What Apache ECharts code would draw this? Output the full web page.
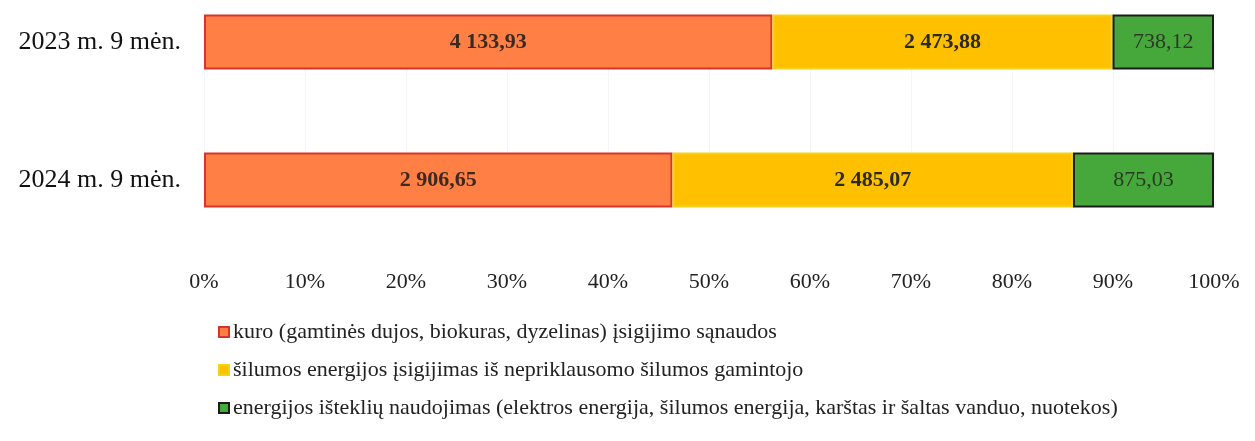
<!DOCTYPE html>
<html lang="lt">
<head>
    <meta charset="UTF-8">
    <title>sąnaudos</title>
    <script src="https://cdn.jsdelivr.net/npm/echarts@6/dist/echarts.min.js"></script>
    <style>
        html, body { margin: 0; padding: 0; background: #fff; }
        #chart { width: 1255px; height: 441px; }
    </style>
</head>
<body>
<div id="chart"></div>
<script type="text/javascript">
    // duomenys
    let categories = ['2023 m. 9 mėn.', '2024 m. 9 mėn.'];
    let seriesNames = [
        'kuro (gamtinės dujos, biokuras, dyzelinas) įsigijimo sąnaudos',
        'šilumos energijos įsigijimas iš nepriklausomo šilumos gamintojo',
        'energijos išteklių naudojimas (elektros energija, šilumos energija, karštas ir šaltas vanduo, nuotekos)'
    ];
    let kuras = [4133.93, 2906.65];
    let silumosPirkimas = [2473.88, 2485.07];
    let istekliai = [738.12, 875.03];
    let tickLabels = ['0%', '10%', '20%', '30%', '40%', '50%', '60%', '70%', '80%', '90%', '100%'];

    let raw = [kuras, silumosPirkimas, istekliai];
    let totals = categories.map(function (c, i) {
        return kuras[i] + silumosPirkimas[i] + istekliai[i];
    });

    function fmt(v) {
        let parts = v.toFixed(2).split('.');
        parts[0] = parts[0].replace(/\B(?=(\d{3})+(?!\d))/g, ' ');
        return parts[0] + ',' + parts[1];
    }

    let colors = ['#ff7f45', '#ffc000', '#46a83a'];
    let borders = ['#d8352a', '#f2d21a', '#1c1c1c'];
    let labelColors = ['#3a2a20', '#2e2a18', '#2a3a26'];

    let series = raw.map(function (arr, s) {
        return {
            name: seriesNames[s],
            type: 'bar',
            stack: 'total',
            barWidth: 55,
            clip: false,
            data: arr.map(function (v, i) {
                return { value: v / totals[i] * 100, raw: v };
            }),
            itemStyle: {
                color: colors[s],
                borderColor: borders[s],
                borderWidth: 2
            },
            label: {
                show: true,
                position: 'inside',
                fontFamily: 'Liberation Serif',
                fontWeight: s === 2 ? 'normal' : 'bold',
                fontSize: 22,
                color: labelColors[s],
                formatter: function (p) { return fmt(p.data.raw); }
            }
        };
    });

    let myChart = echarts.init(document.getElementById('chart'), null, { renderer: 'canvas' });
    let option = {
        animation: false,
        color: colors,
        grid: { left: 204, right: 41, top: 42, height: 138, containLabel: false },
        xAxis: {
            type: 'value',
            min: 0,
            max: 100,
            interval: 10,
            axisLine: { show: false },
            axisTick: { show: false },
            splitLine: { show: true, lineStyle: { color: '#f6f6f6', width: 1 } },
            axisLabel: {
                margin: 91,
                fontFamily: 'Liberation Serif',
                fontSize: 22,
                color: '#222',
                formatter: function (v) { return tickLabels[Math.round(v / 10)]; }
            }
        },
        yAxis: {
            type: 'category',
            inverse: true,
            boundaryGap: false,
            data: categories,
            axisLine: { show: false },
            axisTick: { show: false },
            splitLine: { show: false },
            axisLabel: {
                margin: 23,
                fontFamily: 'Liberation Serif',
                fontSize: 26,
                color: '#111'
            }
        },
        legend: {
            orient: 'vertical',
            left: 213,
            top: 316,
            itemWidth: 10,
            itemHeight: 10,
            itemGap: 16,
            icon: 'rect',
            textStyle: {
                fontFamily: 'Liberation Serif',
                fontSize: 22,
                lineHeight: 22,
                color: '#222',
                padding: [0, 0, 0, -1]
            },
            data: seriesNames
        },
        series: series
    };
    myChart.setOption(option);
</script>
</body>
</html>
